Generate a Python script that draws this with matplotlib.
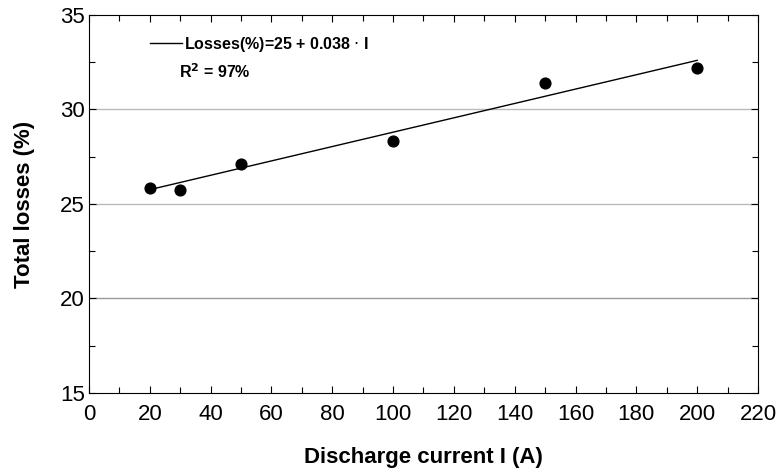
import matplotlib
matplotlib.use("Agg")
import matplotlib.pyplot as plt
from matplotlib.ticker import MultipleLocator
import numpy as np

plt.rcParams['font.family'] = ['Liberation Sans', 'DejaVu Sans']

current = [20, 30, 50, 100, 150, 200]
losses = [25.85, 25.75, 27.1, 28.33, 31.4, 32.2]
intercept = 25
slope = 0.038

fig = plt.figure(figsize=(7.8, 4.72), dpi=100)
ax = fig.add_axes([89/780, 1 - 393/472, (758-89)/780, (393-15)/472])

for g in [20, 25, 30]:
    ax.axhline(g, color='#999999' if g == 20 else '#bbbbbb', lw=1, zorder=0)

xfit = np.array([current[0], current[-1]])
ax.plot(xfit, intercept + slope * xfit, color='black', lw=1,
        label='Losses(%)=25 + 0.038 $\\cdot$ I')
ax.scatter(current, losses, s=60, color='black', zorder=3)

ax.set_xlim(0, 220)
ax.set_ylim(15, 35)
ax.xaxis.set_major_locator(MultipleLocator(20))
ax.xaxis.set_minor_locator(MultipleLocator(10))
ax.yaxis.set_major_locator(MultipleLocator(5))
ax.yaxis.set_minor_locator(MultipleLocator(2.5))
ax.tick_params(which='both', direction='in', top=True, right=True, labelsize=16, width=0.8)
ax.tick_params(which='major', length=5)
ax.tick_params(which='minor', length=4)
ax.tick_params(axis='x', pad=8)
ax.tick_params(axis='y', pad=3)
for s in ax.spines.values():
    s.set_linewidth(0.8)

ax.set_xlabel('Discharge current I (A)', fontsize=16, fontweight='bold', labelpad=16)
ax.set_ylabel('Total losses (%)', fontsize=16, fontweight='bold', labelpad=18)

leg = ax.legend(loc='upper left', bbox_to_anchor=(0.07, 0.985), frameon=False,
                prop={'weight': 'bold', 'size': 11.5}, handlelength=2.0, handletextpad=0.1)
ax.text(0.135, 0.85, 'R$^\\mathbf{2}$ = 97%', transform=ax.transAxes,
        fontsize=11.5, fontweight='bold', va='center')

fig.savefig('out.png', dpi=100)
